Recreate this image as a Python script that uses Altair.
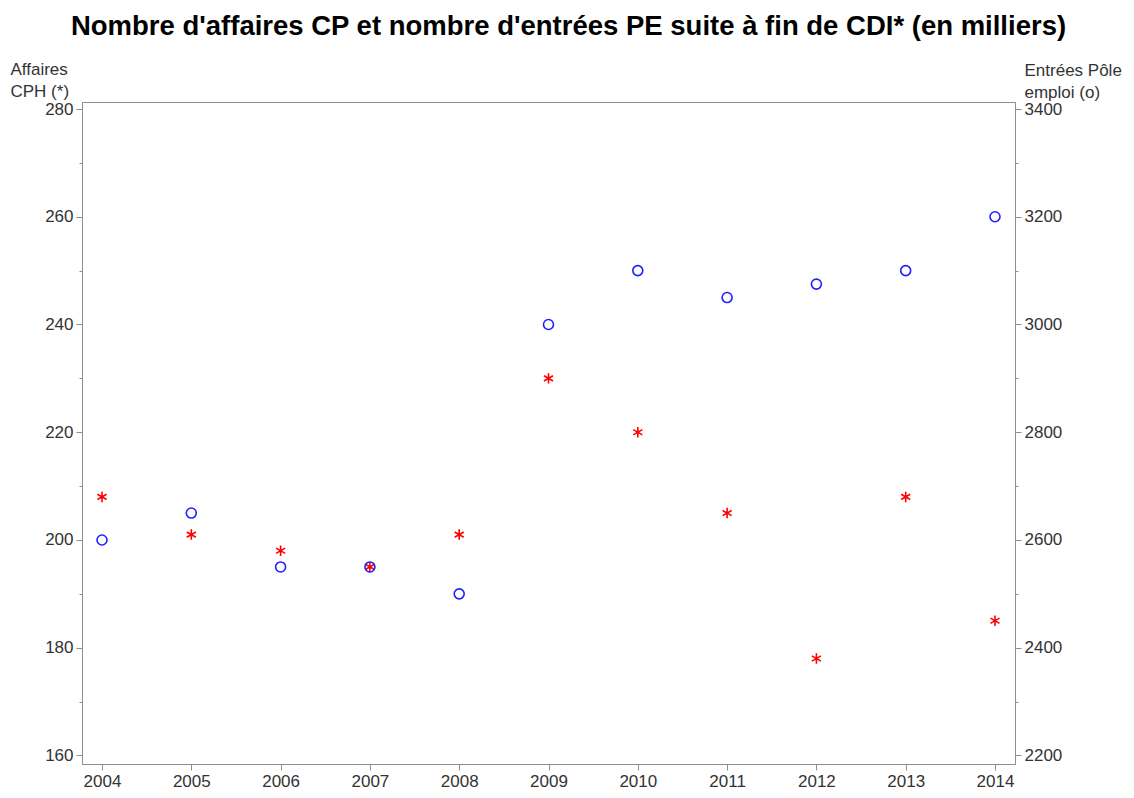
import altair as alt
import pandas as pd

years = [2004, 2005, 2006, 2007, 2008, 2009, 2010, 2011, 2012, 2013, 2014]
cph = [208, 201, 198, 195, 201, 230, 220, 205, 178, 208, 185]
pe = [2600, 2650, 2550, 2550, 2500, 3000, 3100, 3050, 3075, 3100, 3200]

df = pd.DataFrame({"annee": years, "cph": cph, "pe": pe})

FONT = "Liberation Sans"
AXC = "#8f8f8f"
LABC = "#333333"

xenc = alt.X(
    "annee:Q",
    scale=alt.Scale(domain=[2003.776, 2014.224], nice=False, zero=False),
    axis=alt.Axis(values=years, format="d", title=None, grid=False,
                  tickSize=6, labelPadding=3),
)

star = "M0,-1L0,1M-0.866,-0.5L0.866,0.5M-0.866,0.5L0.866,-0.5"

red = alt.Chart(df).mark_point(shape=star, size=110, color="#ff0000",
                                strokeWidth=1.6, filled=False, opacity=1).encode(
    x=xenc,
    y=alt.Y("cph:Q",
            scale=alt.Scale(domain=[158.42, 281.3], nice=False, zero=False),
            axis=alt.Axis(
                orient="left",
                values=list(range(160, 281, 10)),
                labelExpr="datum.value % 20 == 0 ? datum.label : ''",
                format="d",
                tickSize={"condition": {"test": "datum.value % 20 == 0", "value": 6}, "value": 3},
                grid=False,
                labelPadding=3,
                title=["Affaires", "CPH (*)"],
                titleAngle=0,
                titleAlign="left",
                titleBaseline="alphabetic",
                titleX=-72,
                titleY=-28,
                titleLineHeight=22,
            )),
)

blue = alt.Chart(df).mark_point(shape="circle", size=100, color="#2020ff",
                                 strokeWidth=1.6, filled=False, opacity=1).encode(
    x=xenc,
    y=alt.Y("pe:Q",
            scale=alt.Scale(domain=[2184.2, 3413.0], nice=False, zero=False),
            axis=alt.Axis(
                orient="right",
                values=list(range(2200, 3401, 100)),
                labelExpr="datum.value % 200 == 0 ? datum.label : ''",
                format="d",
                tickSize={"condition": {"test": "datum.value % 200 == 0", "value": 6}, "value": 3},
                grid=False,
                labelPadding=3,
                title=["Entrées Pôle", "emploi (o)"],
                titleAngle=0,
                titleAlign="left",
                titleBaseline="alphabetic",
                titleX=9,
                titleY=-27,
                titleLineHeight=22,
            )),
)

chart = alt.layer(red, blue).resolve_scale(y="independent").properties(
    width=933,
    height=662,
    autosize=alt.AutoSizeParams(type="none"),
    padding={"left": 74, "top": 94, "right": 111, "bottom": 26},
    title=alt.TitleParams(
        "Nombre d'affaires CP et nombre d'entrées PE suite à fin de CDI* (en milliers)",
        font=FONT, fontSize=27.5, fontWeight="bold", color="#000000",
        anchor="middle", offset=20, dx=20,
    ),
).configure_axis(
    labelFont=FONT, labelFontSize=17, labelColor=LABC,
    titleFont=FONT, titleFontSize=17, titleColor=LABC, titleFontWeight="normal",
    domainColor=AXC, tickColor=AXC, domainWidth=1, tickWidth=1,
).configure_view(stroke=AXC, strokeWidth=1)

chart.save("out.html", embed_options={"renderer": "svg", "actions": False})
